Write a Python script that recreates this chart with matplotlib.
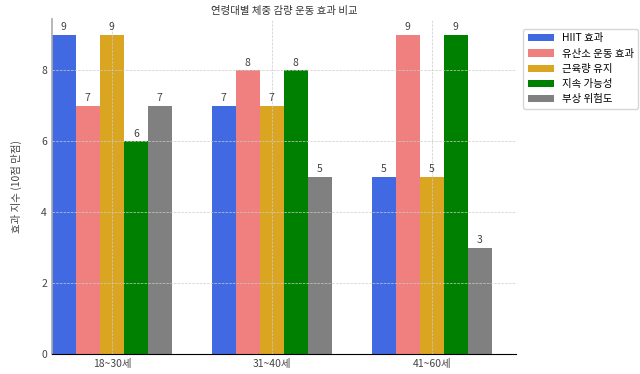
import matplotlib.pyplot as plt
import numpy as np

plt.rcParams['font.family'] = ['Noto Sans CJK KR', 'DejaVu Sans']

# Data
age_groups = ["18~30세", "31~40세", "41~60세"]
series_names = ["HIIT 효과", "유산소 운동 효과", "근육량 유지", "지속 가능성", "부상 위험도"]
hiit = [9, 7, 5]
cardio = [7, 8, 9]
muscle = [9, 7, 5]
sustain = [6, 8, 9]
injury = [7, 5, 3]
colors = ["royalblue", "lightcoral", "goldenrod", "green", "gray"]

values = [hiit, cardio, muscle, sustain, injury]
x = np.arange(len(age_groups))
width = 0.15

fig = plt.figure(figsize=(6.4, 3.74), dpi=100)
ax = fig.add_axes([0.081, 0.053, 0.725, 0.896])

for i, (name, vals, c) in enumerate(zip(series_names, values, colors)):
    bars = ax.bar(x + (i - 2) * width, vals, width, label=name, color=c)
    for b, v in zip(bars, vals):
        ax.text(b.get_x() + b.get_width() / 2, v + 0.08, str(v),
                ha='center', va='bottom', fontsize=7.5, color='#444444')

ax.set_xticks(x)
ax.set_xticklabels(age_groups, fontsize=7.5, color='#444444')
ax.set_xlim(-0.375, 2.525)
ax.set_ylim(0, 9.45)
ax.set_yticks([0, 2, 4, 6, 8])
ax.tick_params(axis='y', labelsize=7.5, colors='#444444', length=0)
ax.tick_params(axis='x', length=0)
ax.set_ylabel("효과 지수 (10점 만점)", fontsize=7.5, color='#444444', labelpad=14)
ax.set_title("연령대별 체중 감량 운동 효과 비교", fontsize=7.5, color='#333333', pad=4)

ax.grid(True, linestyle='--', linewidth=0.5, color='#cccccc')
ax.spines['top'].set_visible(False)
ax.spines['right'].set_visible(False)
ax.spines['left'].set_color('#aaaaaa')
ax.spines['left'].set_linewidth(1.2)
ax.spines['bottom'].set_color('black')

ax.legend(loc='upper left', bbox_to_anchor=(1.005, 0.985), fontsize=7.5,
          frameon=True, edgecolor='#cccccc', handlelength=2.5)

fig.savefig("out.png", dpi=100)
